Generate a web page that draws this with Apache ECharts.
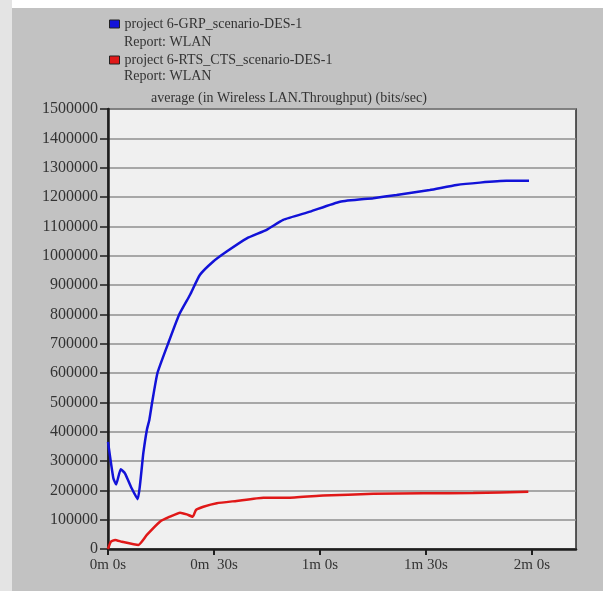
<!DOCTYPE html>
<html>
<head>
<meta charset="utf-8">
<script src="https://cdn.jsdelivr.net/npm/echarts@6/dist/echarts.min.js"></script>
<style>
  html, body { margin: 0; padding: 0; background: #ffffff; }
  #chart { width: 603px; height: 591px; }
</style>
</head>
<body>
<div id="chart"></div>
<script>
// Average WLAN throughput (bits/sec) over simulated time, two scenarios.
const seriesNames = ['project 6-GRP_scenario-DES-1', 'project 6-RTS_CTS_scenario-DES-1'];
const reportLabel = 'Report: WLAN';
const chartTitle = 'average (in Wireless LAN.Throughput) (bits/sec)';

// simulation time in seconds
const grpTimes = [0, 1.5, 2.3, 3.6, 4.8, 6.7, 8.4, 10.0, 11.0, 11.7, 12.5, 14.0, 17.0, 20.1, 23.2, 26.0, 29.8,
  33.6, 39.3, 44.9, 49.6, 57.2, 65.7, 75.1, 81.7, 91.1, 98.7, 105.3, 112.8, 119.2];
const grpValues = [365000, 242000, 220000, 272000, 258000, 207000, 170000, 327000, 406000, 440000, 500000,
  600000, 700000, 798000, 866000, 934000, 980000, 1014000, 1059000, 1088000, 1122000, 1150000, 1184000,
  1196000, 1207000, 1224000, 1241000, 1249000, 1255000, 1255000];

const rtsTimes = [0, 0.8, 2.0, 3.9, 8.6, 11.0, 14.7, 17.5, 20.4, 22.3, 24.0, 24.9, 27.0, 30.8, 36.4, 44.0,
  51.5, 60.9, 75.1, 89.2, 103.4, 119.0];
const rtsValues = [0, 25000, 31000, 25000, 14000, 48000, 93000, 110000, 124000, 118000, 110000, 133000,
  144000, 156000, 164000, 175000, 175000, 182000, 188000, 190000, 191000, 195000];

const xTickLabels = ['0m 0s', '0m  30s', '1m 0s', '1m 30s', '2m 0s'];
const xTickStep = 30;
const xMax = 132.5;
const yMax = 1500000;
const yStep = 100000;

const pair = (ts, vs) => ts.map((t, i) => [t, vs[i]]);

const serif = 'Liberation Serif, Times New Roman, serif';
const textColor = '#333333';
const legendText = { fontFamily: serif, fontSize: 14, color: textColor };

// one legend entry per scenario, each followed by its report line
const legendTops = [17, 53];
const reportTops = [35, 69];

const chart = echarts.init(document.getElementById('chart'), null, { renderer: 'canvas' });

chart.setOption({
  backgroundColor: '#c2c2c2',
  animation: false,
  graphic: [
    { type: 'rect', left: 0, top: 0, shape: { width: 603, height: 8 }, style: { fill: '#ffffff' }, silent: true },
    { type: 'rect', left: 0, top: 0, shape: { width: 12, height: 591 }, style: { fill: '#e4e4e4' }, silent: true },
    ...reportTops.map(t => ({
      type: 'text', left: 124, top: t, silent: true,
      style: { text: reportLabel, font: '14px ' + serif, fill: textColor }
    }))
  ],
  title: {
    text: chartTitle,
    left: 151,
    top: 91,
    padding: 0,
    textStyle: { fontFamily: serif, fontSize: 14, fontWeight: 'normal', color: textColor }
  },
  legend: seriesNames.map((name, i) => ({
    orient: 'vertical',
    left: 109,
    top: legendTops[i],
    padding: 0,
    itemWidth: 10,
    itemHeight: 8,
    itemGap: 0,
    icon: 'rect',
    data: [name],
    textStyle: legendText,
    itemStyle: { borderColor: '#222', borderWidth: 1 }
  })),
  grid: {
    left: 108,
    top: 109,
    right: 27,
    bottom: 42,
    show: true,
    backgroundColor: '#f0f0f0',
    borderColor: '#2a2a2a',
    borderWidth: 1.5
  },
  xAxis: {
    type: 'value',
    min: 0,
    max: xMax,
    interval: xTickStep,
    axisLine: { show: true, onZero: false, lineStyle: { color: '#1e1e1e', width: 2.5 } },
    axisTick: { show: true, inside: false, length: 6, lineStyle: { color: '#1e1e1e', width: 2 } },
    splitLine: { show: false },
    axisLabel: {
      showMaxLabel: false,
      margin: 9,
      fontFamily: serif,
      fontSize: 15,
      color: textColor,
      formatter: v => {
        const i = Math.round(v / xTickStep);
        return Math.abs(v - i * xTickStep) < 1e-6 && xTickLabels[i] !== undefined ? xTickLabels[i] : '';
      }
    }
  },
  yAxis: {
    type: 'value',
    min: 0,
    max: yMax,
    interval: yStep,
    axisLine: { show: true, onZero: false, lineStyle: { color: '#1e1e1e', width: 2.5 } },
    axisTick: { show: true, inside: false, length: 8, lineStyle: { color: '#1e1e1e', width: 1.5 } },
    splitLine: { show: true, lineStyle: { color: '#8f8f8f', width: 1.5 } },
    axisLabel: {
      margin: 10,
      fontFamily: serif,
      fontSize: 16,
      color: textColor,
      formatter: v => String(v)
    }
  },
  series: [
    {
      name: seriesNames[0],
      type: 'line',
      data: pair(grpTimes, grpValues),
      showSymbol: false,
      smooth: 0.15,
      lineStyle: { color: '#1212d8', width: 2.5 },
      itemStyle: { color: '#1212d8' },
      z: 3
    },
    {
      name: seriesNames[1],
      type: 'line',
      data: pair(rtsTimes, rtsValues),
      showSymbol: false,
      smooth: 0.15,
      lineStyle: { color: '#e01818', width: 2.5 },
      itemStyle: { color: '#e01818' },
      z: 2
    }
  ]
});
</script>
</body>
</html>
